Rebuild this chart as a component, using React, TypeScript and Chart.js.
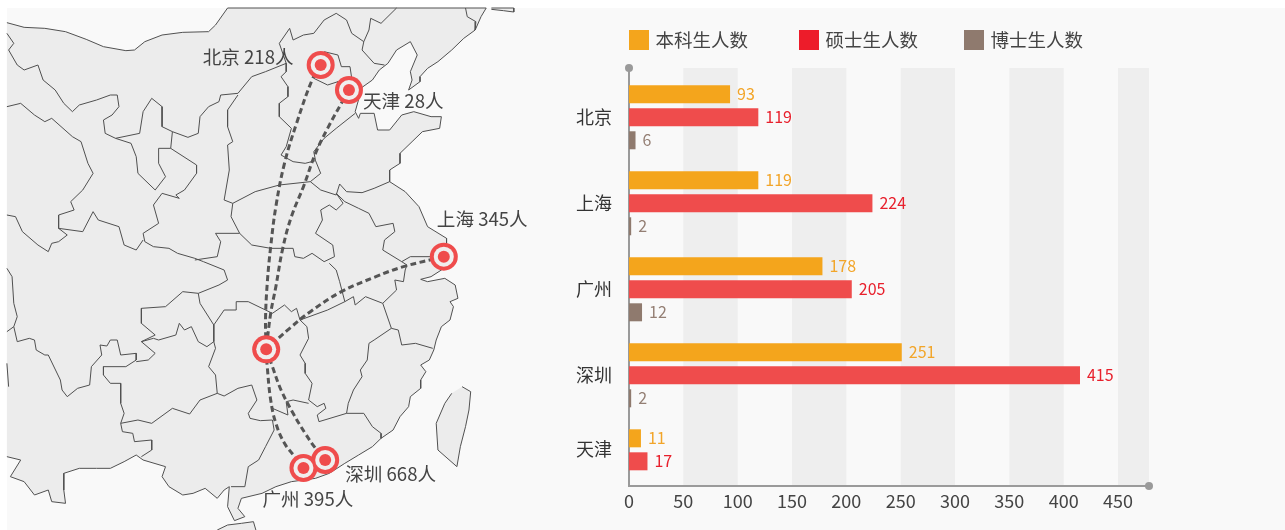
import React, { useEffect, useRef } from "react";
import { Chart, registerables } from "chart.js";

Chart.register(...registerables);

const FONT = '"Noto Sans CJK SC", "Noto Sans", sans-serif';

// ---------- bar chart data ----------
const categories = ["北京", "上海", "广州", "深圳", "天津"];
const categoryTickAt = [0, 1, 2, 3, 3.857];
const undergrad = [93, 119, 178, 251, 11];
const master = [119, 224, 205, 415, 17];
const doctor: (number | null)[] = [6, 2, 12, 2, null];
const seriesNames = ["本科生人数", "硕士生人数", "博士生人数"];
const bandRanges = [[50, 100], [150, 200], [250, 300], [350, 400], [450, 478.5]];
const xTickMax = 478.5;

// ---------- map data (map units) ----------
type P = [number, number];
const cityNames = ["北京", "天津", "上海", "深圳", "广州"];
const cityTotals = [218, 28, 345, 668, 395];
const cityPoints: P[] = [[930, 195], [1012, 270], [1287, 770], [943, 1380], [880, 1404]];
const hubPoint: P = [772, 1048];

const routeBeijing: P[] = [[930, 195], [905, 240], [860, 370], [825, 490], [800, 620], [785, 740], [775, 850], [770, 960], [772, 1048]];
const routeTianjin: P[] = [[1012, 270], [990, 310], [950, 385], [915, 460], [880, 560], [845, 650], [820, 745], [800, 860], [785, 940], [772, 1048]];
const routeShanghai: P[] = [[1287, 770], [1170, 800], [1090, 830], [990, 875], [900, 935], [840, 985], [772, 1048]];
const routeGuangzhou: P[] = [[772, 1048], [775, 1100], [785, 1200], [800, 1270], [825, 1330], [855, 1370], [880, 1404]];
const routeShenzhen: P[] = [[772, 1048], [790, 1100], [815, 1170], [850, 1240], [885, 1300], [915, 1345], [943, 1380]];

const landOutline: P[] = [
  [20, 68], [70, 82], [130, 85], [190, 95], [250, 118], [300, 140], [365, 152], [390, 150], [420, 125], [470, 105], [530, 97], [605, 95], [625, 75], [660, 24],
  [1410, 24], [1395, 50], [1378, 90], [1345, 115], [1310, 150], [1270, 185], [1240, 205], [1218, 230], [1218, 245], [1185, 270], [1195, 240], [1190, 215], [1210, 165], [1190, 125],
  [1150, 150], [1125, 190], [1100, 210], [1080, 240], [1050, 262], [1030, 335], [1040, 355], [1045, 340], [1085, 340], [1095, 390], [1130, 390], [1165, 345], [1200, 335], [1250, 350], [1280, 350], [1275, 385], [1225, 395], [1195, 425], [1160, 460], [1160, 490], [1130, 510], [1130, 545],
  [1175, 575], [1215, 620], [1240, 680], [1295, 715], [1295, 735], [1320, 770], [1280, 810], [1250, 830], [1220, 838], [1240, 845], [1290, 835], [1320, 855], [1328, 895], [1305, 905], [1315, 920], [1305, 960], [1280, 980], [1265, 1020], [1258, 1050], [1245, 1080], [1220, 1095], [1235, 1115], [1220, 1140], [1220, 1165], [1190, 1190], [1185, 1220], [1160, 1250], [1140, 1290], [1105, 1315], [1080, 1340], [1040, 1365], [1000, 1390], [955, 1420], [915, 1435], [880, 1440], [845, 1445], [800, 1460], [760, 1480], [700, 1495], [690, 1525], [710, 1550], [680, 1562], [660, 1520], [665, 1460], [650, 1470], [630, 1495], [595, 1465], [560, 1480], [530, 1485], [490, 1460], [470, 1430], [480, 1400], [415, 1380], [395, 1365], [360, 1385], [320, 1405], [280, 1405], [230, 1405], [185, 1420], [185, 1470], [190, 1510], [150, 1505], [140, 1470], [100, 1485], [70, 1445], [30, 1430], [60, 1380], [20, 1370],
];
const koreaPiece: P[] = [[1425, 24], [1490, 24], [1490, 36], [1460, 32], [1425, 28]];
const hainan: P[] = [[630, 1590], [660, 1575], [700, 1570], [735, 1565], [742, 1590]];
const taiwan: P[] = [[1340, 1160], [1365, 1175], [1360, 1230], [1350, 1280], [1335, 1340], [1325, 1400], [1270, 1350], [1265, 1270], [1290, 1210], [1310, 1180]];

const borders: P[][] = [
  [[20, 100], [40, 130], [25, 150], [50, 195], [70, 210], [110, 195], [125, 240], [160, 270], [185, 310], [210, 335], [230, 315], [280, 300], [320, 285], [340, 285], [345, 320], [325, 345], [300, 360], [305, 400], [335, 415], [380, 430], [395, 470], [400, 520], [450, 570], [480, 530], [460, 490], [460, 445], [495, 445], [500, 395]],
  [[335, 415], [405, 400], [415, 335], [440, 295], [470, 320], [470, 380], [500, 395], [545, 412], [575, 400], [580, 350], [605, 320], [635, 305], [640, 285], [690, 280], [730, 230], [770, 215], [830, 190], [830, 215], [815, 230], [835, 260], [835, 290], [810, 310], [810, 350], [845, 385], [830, 440], [815, 465], [850, 485], [885, 490], [915, 482], [910, 455], [940, 415], [975, 385], [1030, 340]],
  [[495, 445], [570, 495], [570, 520], [535, 570], [510, 585], [520, 595], [470, 580], [445, 615], [460, 670], [415, 700], [420, 725], [445, 740], [490, 745], [515, 760], [565, 775], [590, 785], [650, 810], [660, 840], [635, 855], [575, 880], [530, 875], [480, 920], [410, 925], [410, 970], [450, 1005], [410, 1025]],
  [[690, 285], [660, 330], [660, 380], [675, 425], [660, 435], [665, 510], [650, 600], [675, 610], [670, 650], [695, 700], [625, 700], [640, 725], [630, 770], [565, 780]],
  [[675, 610], [740, 575], [810, 555], [900, 545]],
  [[695, 700], [730, 735], [785, 745], [850, 745], [855, 770], [880, 775], [905, 760], [940, 785], [970, 770], [965, 735], [915, 700], [935, 660], [930, 630], [955, 615], [975, 630], [995, 610], [975, 580]],
  [[915, 482], [930, 520], [900, 545], [930, 570], [975, 585], [985, 552], [1005, 575], [1050, 578], [1085, 565], [1130, 545]],
  [[975, 580], [1000, 605], [1040, 625], [1070, 640], [1090, 680], [1140, 670], [1145, 695], [1115, 720], [1110, 750], [1165, 785], [1190, 770], [1250, 770]],
  [[830, 190], [810, 130], [840, 85], [850, 120], [880, 105], [910, 100], [940, 60], [975, 40], [1005, 60], [1020, 100], [1055, 125], [1050, 150], [1085, 190], [1115, 195]],
  [[1055, 125], [1070, 90], [1075, 55], [1105, 70], [1150, 24]],
  [[1350, 24], [1355, 50], [1380, 65], [1378, 90]],
  [[940, 155], [980, 165], [990, 200], [1015, 200], [1020, 235]],
  [[910, 235], [950, 255], [980, 245], [980, 290], [1000, 300]],
  [[20, 320], [60, 310], [100, 345], [130, 365], [150, 355], [210, 410], [235, 425], [255, 490], [270, 520], [240, 570], [205, 605], [215, 630], [170, 645], [170, 685], [240, 695], [270, 635], [285, 660], [345, 680], [360, 735], [395, 750], [415, 720]],
  [[20, 645], [45, 650], [65, 695], [110, 735], [140, 755], [150, 730], [170, 725], [195, 705], [170, 685]],
  [[20, 805], [35, 830], [40, 910], [50, 950], [40, 980], [20, 995]],
  [[20, 1090], [25, 1160]],
  [[40, 980], [50, 1025], [85, 1015], [100, 1020], [105, 1050], [130, 1065], [140, 1065], [175, 1140], [180, 1170], [195, 1190], [225, 1165], [260, 1155], [265, 1100], [295, 1065], [290, 1035], [310, 1038], [320, 1020], [340, 1020], [350, 1065], [395, 1060], [395, 1080], [365, 1100], [300, 1100], [300, 1125], [320, 1150], [350, 1150], [350, 1210], [360, 1240], [350, 1270], [355, 1295], [385, 1300], [390, 1325], [440, 1320], [440, 1350], [410, 1370]],
  [[395, 1085], [430, 1080], [450, 1060], [410, 1025], [445, 1015], [460, 1020], [510, 1005], [520, 970], [535, 990], [555, 980], [575, 1025], [600, 1040], [620, 1025], [625, 1045], [605, 1100], [625, 1125], [630, 1180]],
  [[575, 880], [580, 910], [620, 975], [620, 1025]],
  [[620, 975], [650, 930], [685, 930], [685, 905], [720, 905], [790, 940], [825, 915], [845, 935], [860, 925], [870, 960], [890, 980], [895, 1015], [870, 1065], [885, 1090], [885, 1120], [905, 1150], [895, 1200], [920, 1220], [940, 1210], [945, 1225], [920, 1245], [925, 1265], [1005, 1240]],
  [[630, 1180], [650, 1188], [690, 1165], [730, 1155], [745, 1200], [720, 1240], [725, 1255], [755, 1262], [790, 1260], [795, 1290], [770, 1340], [750, 1380], [720, 1400], [710, 1460], [670, 1460]],
  [[790, 1225], [835, 1245], [830, 1205], [850, 1200], [895, 1210]],
  [[350, 1270], [400, 1260], [440, 1270], [500, 1225], [550, 1242], [580, 1200], [630, 1180]],
  [[870, 960], [950, 930], [1000, 905], [1025, 890], [1030, 915], [1060, 890], [1110, 910], [1150, 870], [1145, 840], [1170, 845], [1175, 810], [1180, 795], [1165, 785]],
  [[1000, 905], [985, 845], [975, 810], [955, 790]],
  [[1110, 910], [1135, 985], [1085, 1020], [1070, 1030], [1065, 1080], [1045, 1110], [1050, 1130], [1025, 1170], [1010, 1210], [1005, 1240], [1055, 1240], [1080, 1280], [1105, 1300], [1105, 1315]],
  [[1135, 985], [1155, 990], [1165, 1035], [1205, 1030], [1255, 1045]],
];

// ---------- map chart ----------
function buildMap(canvas: HTMLCanvasElement) {
  const toXY = (pts: P[]) => pts.map(([x, y]) => ({ x, y }));
  const land = (pts: P[]) => ({
    data: toXY(pts), showLine: true, tension: 0, pointRadius: 0, fill: "shape" as const,
    backgroundColor: "#ececec", borderColor: "#505050", borderWidth: 1,
  });
  const border = (pts: P[]) => ({
    data: toXY(pts), showLine: true, tension: 0, pointRadius: 0, fill: false,
    borderColor: "#505050", borderWidth: 1,
  });
  const route = (pts: P[]) => ({
    data: toXY(pts), showLine: true, tension: 0.4, pointRadius: 0, fill: false,
    borderColor: "#555555", borderWidth: 3, borderDash: [6, 3.5],
  });
  const allMarkers = [...cityPoints, hubPoint];
  const ring = (radius: number, color: string) => ({
    data: toXY(allMarkers), showLine: false, pointRadius: radius, pointHoverRadius: radius,
    pointBackgroundColor: color, pointBorderWidth: 0,
  });
  const labelOffsets: P[] = [[-118, -8], [14, 11], [-7, -38], [20, 14], [-41, 31]];
  const cityLabels = {
    id: "cityLabels",
    afterDatasetsDraw(chart: Chart) {
      const { ctx, scales } = chart;
      ctx.save();
      ctx.font = `18.6px ${FONT}`;
      ctx.fillStyle = "#444444";
      ctx.textAlign = "left";
      ctx.textBaseline = "middle";
      cityNames.forEach((name, i) => {
        const px = scales.x.getPixelForValue(cityPoints[i][0]);
        const py = scales.y.getPixelForValue(cityPoints[i][1]);
        ctx.fillText(`${name} ${cityTotals[i]}人`, px + labelOffsets[i][0], py + labelOffsets[i][1]);
      });
      ctx.restore();
    },
  };
  return new Chart(canvas, {
    type: "scatter",
    data: {
      datasets: [
        ring(6, "#ef4c4c"),
        ring(10, "#f0eeee"),
        ring(14, "#ef4c4c"),
        route(routeBeijing), route(routeTianjin), route(routeShanghai), route(routeGuangzhou), route(routeShenzhen),
        ...borders.map(border),
        land(taiwan), land(hainan), land(koreaPiece), land(landOutline),
      ] as any,
    },
    options: {
      responsive: false, animation: false,
      events: [],
      layout: { padding: 0, autoPadding: false },
      plugins: { legend: { display: false }, tooltip: { enabled: false } },
      scales: {
        x: { type: "linear", min: 0, max: 1566, display: false },
        y: { type: "linear", min: 0, max: 1590, reverse: true, display: false },
      },
    },
    plugins: [cityLabels],
  });
}

// ---------- bar chart ----------
function buildBars(canvas: HTMLCanvasElement) {
  const barColors = ["#f4a51c", "#ef4c4c", "#8f7a6e"];
  const legendColors = ["#f4a51c", "#ed1c2a", "#8f7a6e"];
  const labelColors = ["#f2a529", "#e8202c", "#947f74"];
  const legendX = [89, 259, 424];
  const series = [undergrad, master, doctor];

  const backdrop = {
    id: "backdrop",
    beforeDraw(chart: Chart) {
      const { ctx, chartArea, scales } = chart;
      ctx.save();
      ctx.fillStyle = "#eeeeee";
      bandRanges.forEach(([a, b]) => {
        const l = scales.x.getPixelForValue(a);
        const r = scales.x.getPixelForValue(b);
        ctx.fillRect(l, chartArea.top, r - l, chartArea.bottom - chartArea.top);
      });
      ctx.restore();
    },
    afterDraw(chart: Chart) {
      const { ctx, chartArea } = chart;
      ctx.save();
      ctx.fillStyle = "#9a9a9a";
      [[chartArea.left, chartArea.top], [chartArea.right, chartArea.bottom]].forEach(([x, y]) => {
        ctx.beginPath();
        ctx.arc(x, y, 4, 0, Math.PI * 2);
        ctx.fill();
      });
      ctx.textBaseline = "middle";
      ctx.textAlign = "left";
      ctx.font = `18.5px ${FONT}`;
      seriesNames.forEach((name, i) => {
        ctx.fillStyle = legendColors[i];
        ctx.fillRect(legendX[i], 30, 20, 20);
        ctx.fillStyle = "#444444";
        ctx.fillText(name, legendX[i] + 26.5, 40);
      });
      ctx.restore();
    },
  };
  const valueLabels = {
    id: "valueLabels",
    afterDatasetsDraw(chart: Chart) {
      const { ctx } = chart;
      ctx.save();
      ctx.font = `16px ${FONT}`;
      ctx.textAlign = "left";
      ctx.textBaseline = "middle";
      series.forEach((values, d) => {
        const meta = chart.getDatasetMeta(d);
        ctx.fillStyle = labelColors[d];
        values.forEach((v, i) => {
          if (v == null) return;
          const el: any = meta.data[i];
          ctx.fillText(String(v), el.x + 7, el.y);
        });
      });
      ctx.restore();
    },
  };

  return new Chart(canvas, {
    type: "bar",
    data: {
      datasets: series.map((values, d) => ({
        label: seriesNames[d],
        data: values.map((v, i) => ({ x: v, y: i })),
        backgroundColor: barColors[d],
        borderWidth: 0,
        // the narrowest tick gap (深圳 to 天津) is what Chart.js sizes the groups from
        categoryPercentage: 69 / (86 * 0.857),
        barPercentage: 18 / 23,
      })) as any,
    },
    options: {
      indexAxis: "y",
      responsive: false, animation: false,
      events: [],
      layout: { padding: { top: 68, right: 136, bottom: 0, left: 0 }, autoPadding: false },
      plugins: { legend: { display: false }, tooltip: { enabled: false } },
      scales: {
        x: {
          type: "linear", min: 0, max: xTickMax,
          grid: { display: false, drawTicks: false },
          border: { color: "#9a9a9a", width: 2 },
          ticks: { stepSize: 50, includeBounds: false, padding: 4, color: "#444444", font: { family: FONT, size: 18 }, maxRotation: 0 },
          afterFit: (s: any) => { s.height = 44; },
        },
        y: {
          type: "linear", reverse: true, min: -0.573, max: 4.287, offset: false,
          grid: { display: false, drawTicks: false, offset: false },
          border: { color: "#9a9a9a", width: 2 },
          afterBuildTicks: (s: any) => { s.ticks = categoryTickAt.map((value) => ({ value })); },
          ticks: {
            autoSkip: false, padding: 17, color: "#333333",
            font: { family: FONT, size: 18 },
            callback: (_v: any, i: number) => categories[i] ?? "",
          },
          afterFit: (s: any) => { s.width = 89; },
        },
      },
    } as any,
    plugins: [backdrop, valueLabels],
  });
}

export default function App() {
  const mapRef = useRef<HTMLCanvasElement>(null);
  const barRef = useRef<HTMLCanvasElement>(null);
  useEffect(() => {
    const a = buildMap(mapRef.current!);
    const b = buildBars(barRef.current!);
    return () => { a.destroy(); b.destroy(); };
  }, []);
  return (
    <div style={{ position: "fixed", inset: 0, background: "#ffffff", overflow: "hidden" }}>
      <div style={{ position: "absolute", left: 7, top: 8, right: 0, bottom: 0, background: "#f9f9f9" }} />
      <canvas ref={mapRef} width={540} height={530} style={{ position: "absolute", left: 0, top: 0 }} />
      <canvas ref={barRef} width={745} height={530} style={{ position: "absolute", left: 540, top: 0 }} />
    </div>
  );
}
